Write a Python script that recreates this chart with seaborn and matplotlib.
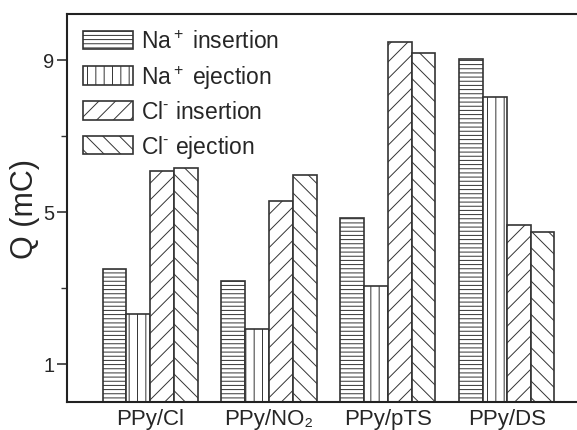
import matplotlib
matplotlib.use("Agg")
import matplotlib.pyplot as plt
import seaborn as sns
import pandas as pd
from matplotlib.ticker import FixedLocator

# Charge passed (mC) for each film and ion process
films = ["PPy/Cl", "PPy/NO\u2082", "PPy/pTS", "PPy/DS"]
processes = ["Na$^+$ insertion", "Na$^+$ ejection", "Cl$^{\\text{-}}$ insertion", "Cl$^{\\text{-}}$ ejection"]
na_insertion = [3.50, 3.18, 4.84, 9.03]
na_ejection = [2.32, 1.91, 3.04, 8.03]
cl_insertion = [6.07, 5.28, 9.47, 4.67]
cl_ejection = [6.16, 5.97, 9.18, 4.47]
hatches = ["----", "||", "//", "\\\\"]

series = [na_insertion, na_ejection, cl_insertion, cl_ejection]
df = pd.DataFrame(
    [(f, p, v) for p, vals in zip(processes, series) for f, v in zip(films, vals)],
    columns=["film", "process", "Q"],
)

sns.set_style("ticks")
plt.rcParams["font.family"] = ["Liberation Sans", "DejaVu Sans"]
plt.rcParams["mathtext.fontset"] = "custom"
plt.rcParams["mathtext.rm"] = "Liberation Sans"
plt.rcParams["mathtext.it"] = "Liberation Sans:italic"
plt.rcParams["mathtext.bf"] = "Liberation Sans:bold"
plt.rcParams["hatch.linewidth"] = 0.7
plt.rcParams["hatch.color"] = "#222222"

fig = plt.figure(figsize=(5.77, 4.31), dpi=100)
ax = fig.add_axes([67 / 577, 28 / 431, (590 - 67) / 577, 388 / 431])

sns.barplot(
    data=df, x="film", y="Q", hue="process", order=films, hue_order=processes,
    palette=["white"] * 4, edgecolor="#333333", linewidth=1.2,
    width=0.8, legend=False, ax=ax, errorbar=None,
)

for cont, h in zip(ax.containers, hatches):
    for bar in cont:
        bar.set_hatch(h)
        bar.set_edgecolor("#333333")

ax.set_xlim(-0.699, 3.70)
ax.set_ylim(0, 10.21)
ax.yaxis.set_major_locator(FixedLocator([1, 5, 9]))
ax.yaxis.set_minor_locator(FixedLocator([3, 7]))
ax.tick_params(axis="y", which="major", direction="out", length=7, width=1.2,
               labelsize=14.5, pad=2, color="#333333")
ax.tick_params(axis="y", which="minor", direction="out", length=4, width=1.0,
               color="#333333")
ax.tick_params(axis="x", length=0, labelsize=16, pad=4)
ax.set_xlabel("")
ax.set_ylabel("Q (mC)", fontsize=22, labelpad=2)

for side in ["left", "bottom", "top"]:
    ax.spines[side].set_visible(True)
    ax.spines[side].set_linewidth(1.5)
    ax.spines[side].set_color("#222222")
ax.spines["right"].set_visible(False)

ax.legend(
    handles=list(ax.containers), labels=processes, loc="upper left",
    frameon=False, fontsize=16.5, handlelength=2.2, handleheight=0.87,
    handletextpad=0.35, labelspacing=0.42, borderaxespad=0.3,
    bbox_to_anchor=(0.0, 1.0),
)

fig.savefig("out.png", dpi=100)
